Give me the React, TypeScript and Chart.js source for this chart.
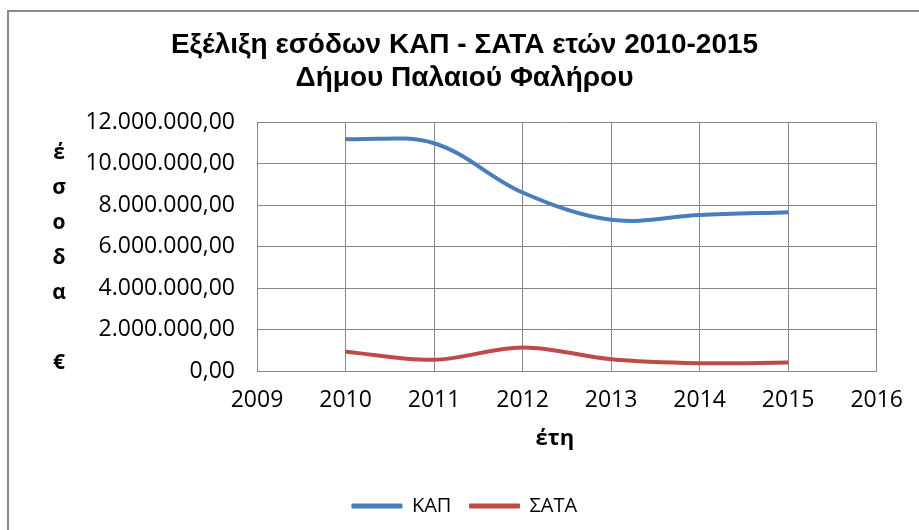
import React, { useEffect, useRef } from "react";
import { Chart, registerables } from "chart.js";

Chart.register(...registerables);

const years = [2010, 2011, 2012, 2013, 2014, 2015];
const kapValues = [11200000, 11000000, 8620000, 7300000, 7530000, 7670000];
const sataValues = [930000, 540000, 1140000, 570000, 380000, 410000];
const seriesLabels = ["ΚΑΠ", "ΣΑΤΑ"];
const titleLines = ["Εξέλιξη εσόδων ΚΑΠ - ΣΑΤΑ ετών 2010-2015", "Δήμου Παλαιού Φαλήρου"];
const yTitleLetters = ["έ", "σ", "ο", "δ", "α", "", "€"];
const xTitle = "έτη";
const xMin = 2009;
const xMax = 2016;
const yMin = 0;
const yMax = 12000000;
const yStep = 2000000;

const formatGreek = (v: number) =>
  Math.round(v).toString().replace(/\B(?=(\d{3})+(?!\d))/g, ".") + ",00";

const GRID = "#888888";
const BLUE = "#4a7ebb";
const RED = "#be4b48";

const framePlugin = {
  id: "frame",
  beforeDraw(chart: any) {
    const ctx = chart.ctx;
    ctx.save();
    ctx.fillStyle = "#ffffff";
    ctx.fillRect(0, 0, chart.width, chart.height);
    ctx.fillStyle = "#8a8a8a";
    ctx.fillRect(7, 10, 2, chart.height - 10);
    ctx.fillRect(7, 10, chart.width - 7, 2);
    ctx.restore();
  },
  afterDraw(chart: any) {
    const ctx = chart.ctx;
    const { top, bottom, left, right } = chart.chartArea;
    ctx.save();
    ctx.font = "bold 21px 'Open Sans'";
    ctx.fillStyle = "#000";
    ctx.textAlign = "center";
    ctx.textBaseline = "middle";
    yTitleLetters.forEach((ch, i) => {
      if (ch) ctx.fillText(ch, 59, top + 30 + i * 35);
    });
    ctx.font = "bold 22px 'Open Sans'";
    ctx.fillText(xTitle, (left + right) / 2 - 12, bottom + 68);
    ctx.restore();
  },
};

export default function App() {
  const ref = useRef<HTMLCanvasElement | null>(null);
  useEffect(() => {
    if (!ref.current) return;
    const chart = new Chart(ref.current, {
      type: "line",
      data: {
        datasets: [
          {
            label: seriesLabels[0],
            data: years.map((x, i) => ({ x, y: kapValues[i] })),
            borderColor: BLUE,
            backgroundColor: BLUE,
            borderWidth: 4,
            pointRadius: 0,
            tension: 0.35,
          },
          {
            label: seriesLabels[1],
            data: years.map((x, i) => ({ x, y: sataValues[i] })),
            borderColor: RED,
            backgroundColor: RED,
            borderWidth: 4,
            pointRadius: 0,
            tension: 0.35,
          },
        ],
      },
      options: {
        responsive: false,
        animation: false,
        layout: { padding: { left: 50, right: 40, top: 0, bottom: 4 } },
        plugins: {
          title: {
            display: true,
            text: titleLines,
            color: "#000",
            font: { family: "'Liberation Sans', Arial, sans-serif", size: 28, weight: "bold", lineHeight: 1.17 },
            padding: { top: 29, bottom: 28 },
          },
          legend: {
            position: "bottom",
            labels: {
              color: "#000",
              font: { family: "'Open Sans'", size: 20 },
              boxWidth: 50,
              boxHeight: 4,
              padding: 18,
              generateLabels: (c: any) =>
                c.data.datasets.map((ds: any, i: number) => ({
                  text: ds.label,
                  fillStyle: ds.borderColor,
                  strokeStyle: ds.borderColor,
                  lineWidth: 1,
                  hidden: false,
                  datasetIndex: i,
                })),
            },
          },
          tooltip: { enabled: false },
        },
        scales: {
          x: {
            type: "linear",
            min: xMin,
            max: xMax,
            afterFit: (s: any) => {
              s.height = 107;
            },
            ticks: {
              stepSize: 1,
              color: "#000",
              font: { family: "'Open Sans'", size: 23 },
              padding: 16,
              callback: (v: any) => String(v),
            },
            grid: { color: GRID, lineWidth: 1, drawTicks: false },
            border: { color: GRID, width: 1 },
          },
          y: {
            min: yMin,
            max: yMax,
            afterFit: (s: any) => {
              s.width = 207;
            },
            ticks: {
              stepSize: yStep,
              color: "#000",
              font: { family: "'Open Sans'", size: 23 },
              padding: 22,
              callback: (v: any) => formatGreek(Number(v)),
            },
            grid: { color: GRID, lineWidth: 1, drawTicks: false },
            border: { color: GRID, width: 1 },
          },
        },
      },
      plugins: [framePlugin],
    } as any);
    return () => chart.destroy();
  }, []);
  return (
    <div style={{ position: "fixed", left: 0, top: 0, width: 919, height: 530, background: "#fff" }}>
      <canvas ref={ref} width={919} height={530} style={{ display: "block" }} />
    </div>
  );
}
